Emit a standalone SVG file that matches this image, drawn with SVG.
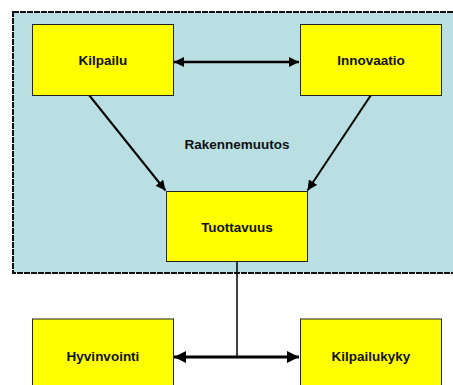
<svg xmlns="http://www.w3.org/2000/svg" width="453" height="385" viewBox="0 0 453 385">
<defs>
<style>
.box{fill:#FFFF00;stroke:#222;stroke-width:1}
.lbl{font-family:"Liberation Sans",Arial,sans-serif;font-weight:bold;font-size:13.5px;fill:#111;text-anchor:middle;dominant-baseline:central}
.ln{stroke:#000;fill:none}
</style>
<marker id="ah" viewBox="0 0 10 10" refX="10" refY="5" markerWidth="4" markerHeight="4" markerUnits="strokeWidth" orient="auto-start-reverse">
<path d="M0,0 L10,5 L0,10 z" fill="#000"/>
</marker>
<marker id="ah2" viewBox="0 0 10 10" refX="10" refY="5" markerWidth="5" markerHeight="5" markerUnits="strokeWidth" orient="auto-start-reverse">
<path d="M0,0 L10,5 L0,10 z" fill="#000"/>
</marker>
</defs>
<rect width="453" height="385" fill="#fff"/>
<g id="rakennemuutos">
<rect x="13" y="12" width="445" height="261" fill="#B9DFE3" stroke="#111" stroke-width="2" stroke-dasharray="6 1"/>
<text class="lbl" x="237" y="144">Rakennemuutos</text>
</g>
<g id="connectors">
<line class="ln" x1="174" y1="62" x2="299" y2="62" stroke-width="2.5" marker-start="url(#ah)" marker-end="url(#ah)"/>
<line class="ln" x1="89" y1="95" x2="165.5" y2="190.5" stroke-width="2" marker-end="url(#ah2)"/>
<line class="ln" x1="371" y1="95" x2="307.5" y2="190.5" stroke-width="2" marker-end="url(#ah2)"/>
<line class="ln" x1="237" y1="262" x2="237" y2="357" stroke-width="1.5"/>
<line class="ln" x1="174" y1="357" x2="299" y2="357" stroke-width="3" marker-start="url(#ah)" marker-end="url(#ah)"/>
</g>
<g id="kilpailu">
<rect class="box" x="32.5" y="24.5" width="141" height="71"/>
<text class="lbl" x="103" y="60.5">Kilpailu</text>
</g>
<g id="innovaatio">
<rect class="box" x="300.5" y="24.5" width="141" height="71"/>
<text class="lbl" x="371" y="60.5">Innovaatio</text>
</g>
<g id="tuottavuus">
<rect class="box" x="166.5" y="191.5" width="141" height="70"/>
<text class="lbl" x="237" y="227.5">Tuottavuus</text>
</g>
<g id="hyvinvointi">
<rect class="box" x="32.5" y="319" width="141" height="71"/>
<text class="lbl" x="103" y="356">Hyvinvointi</text>
</g>
<g id="kilpailukyky">
<rect class="box" x="300.5" y="319" width="141" height="71"/>
<text class="lbl" x="371" y="356">Kilpailukyky</text>
</g>
</svg>
